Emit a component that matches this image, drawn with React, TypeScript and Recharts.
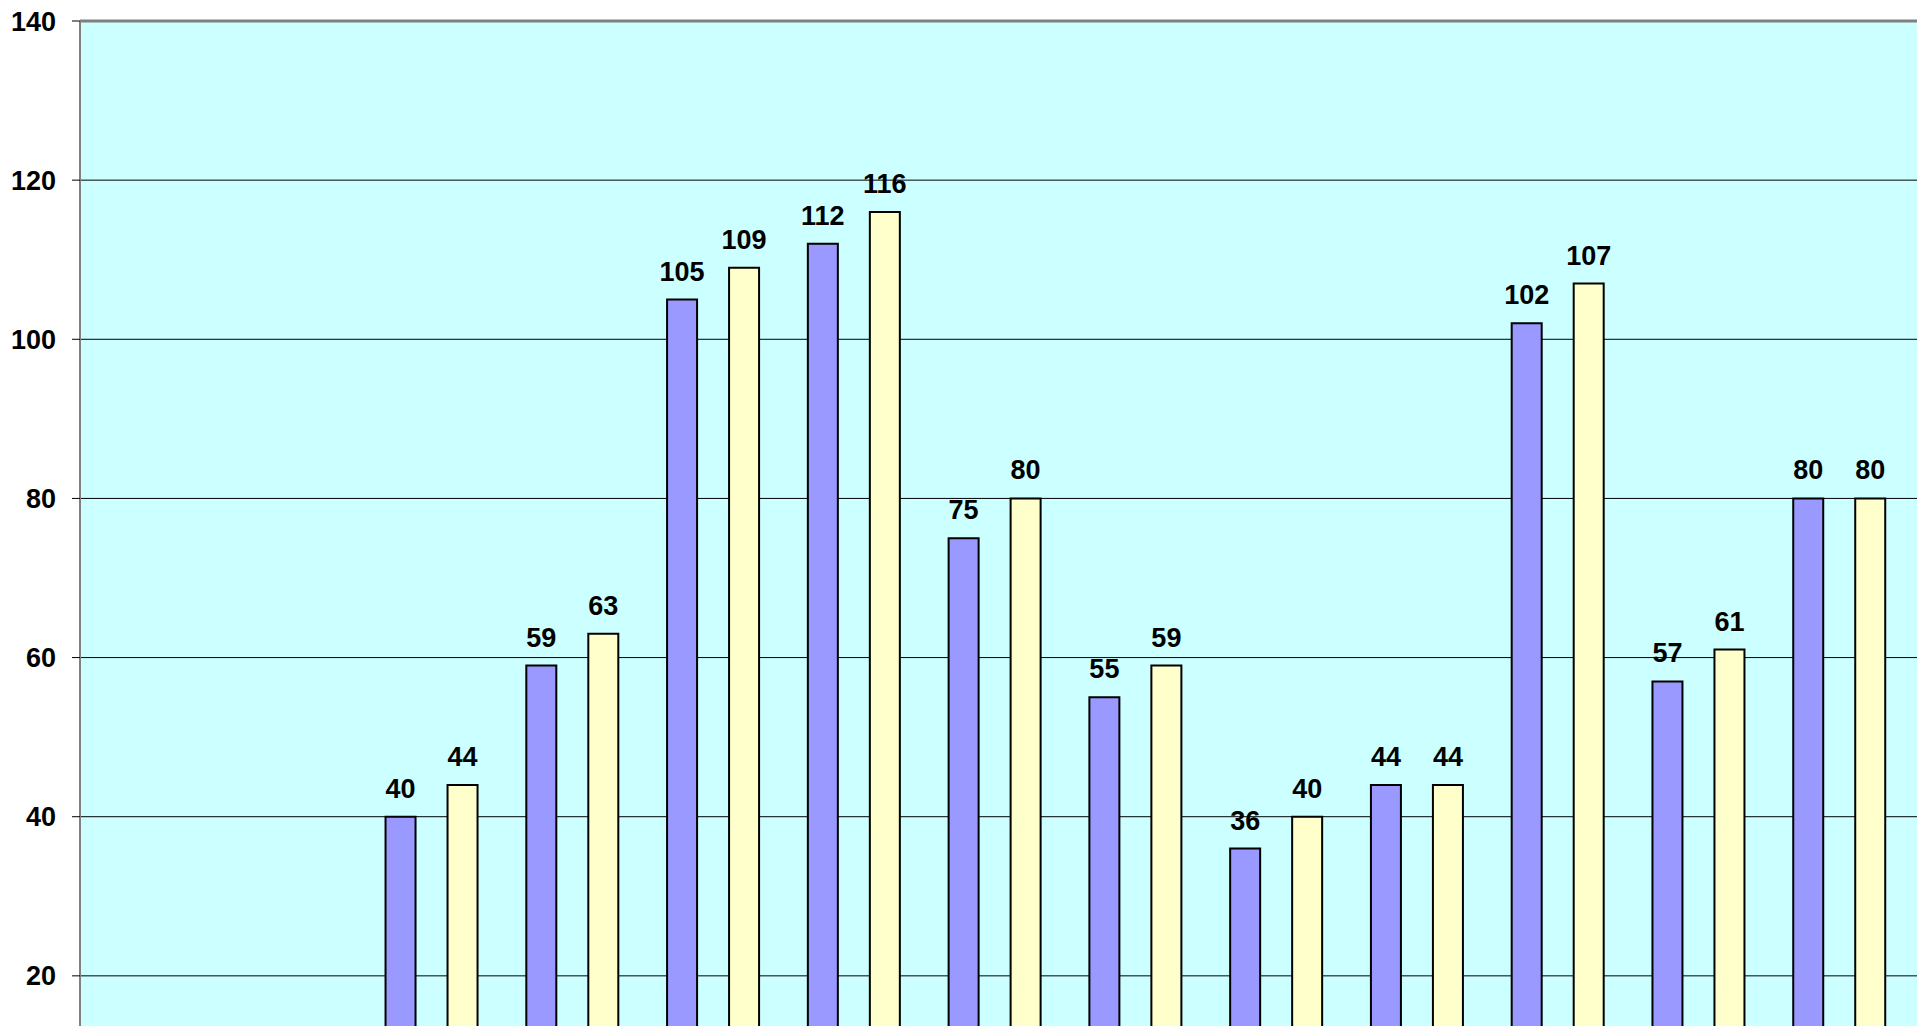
import {
  BarChart,
  Bar,
  XAxis,
  YAxis,
  CartesianGrid,
  LabelList,
  ReferenceLine,
} from 'recharts';

// Category labels (below the visible area in the reference)
const CATEGORIES = ['1', '2', '3', '4', '5', '6', '7', '8', '9', '10', '11', '12', '13'];

// First series (purple) and second series (yellow); first two categories have no bars
const SERIES_A: (number | null)[] = [null, null, 40, 59, 105, 112, 75, 55, 36, 44, 102, 57, 80];
const SERIES_B: (number | null)[] = [null, null, 44, 63, 109, 116, 80, 59, 40, 44, 107, 61, 80];

// 0 sits below the visible window, so only the visible ticks get labels
const Y_TICKS = [20, 40, 60, 80, 100, 120, 140];

const FONT = '"Liberation Sans", Arial, sans-serif';
const TEXT_STYLE = { fontSize: 27, fontWeight: 700, fill: '#000', fontFamily: FONT };

const data = CATEGORIES.map((name, i) => ({
  name,
  a: SERIES_A[i],
  b: SERIES_B[i],
}));

export default function App() {
  return (
    <div
      style={{
        position: 'fixed',
        left: 0,
        top: 0,
        width: 1924,
        height: 1026,
        overflow: 'hidden',
        background: '#fff',
      }}
    >
      <BarChart
        width={1924}
        height={1185}
        data={data}
        margin={{ top: 21, right: 7, left: 0, bottom: 10 }}
        barGap={32}
      >
        <CartesianGrid
          vertical={false}
          stroke="#000"
          strokeWidth={1}
          fill="#CCFFFF"
          fillOpacity={1}
        />
        <XAxis
          dataKey="name"
          height={40}
          padding={{ left: 0, right: 7 }}
          tick={false}
          axisLine={{ stroke: '#000' }}
          tickLine={false}
        />
        <YAxis
          width={80}
          domain={[0, 140]}
          ticks={Y_TICKS}
          interval={0}
          tickSize={8}
          tickMargin={16}
          axisLine={{ stroke: '#808080', strokeWidth: 2 }}
          tickLine={{ stroke: '#000' }}
          tick={TEXT_STYLE}
        />
        <ReferenceLine y={140} stroke="#808080" strokeWidth={3} />
        <Bar
          dataKey="a"
          fill="#9999FF"
          stroke="#000"
          strokeWidth={2}
          barSize={30}
          isAnimationActive={false}
        >
          <LabelList dataKey="a" position="top" offset={19} style={TEXT_STYLE} />
        </Bar>
        <Bar
          dataKey="b"
          fill="#FFFFCC"
          stroke="#000"
          strokeWidth={2}
          barSize={30}
          isAnimationActive={false}
        >
          <LabelList dataKey="b" position="top" offset={19} style={TEXT_STYLE} />
        </Bar>
      </BarChart>
    </div>
  );
}
